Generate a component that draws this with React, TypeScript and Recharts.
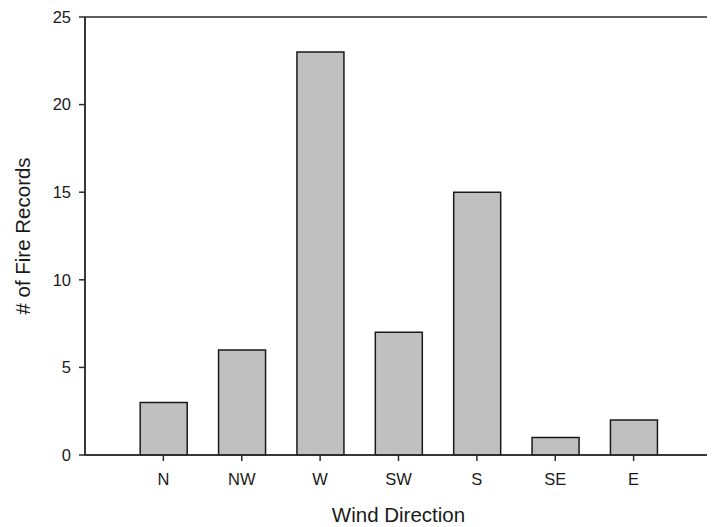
import React from 'react';
import { BarChart, Bar, XAxis, YAxis, Label, ReferenceArea } from 'recharts';

const directions = ['N', 'NW', 'W', 'SW', 'S', 'SE', 'E'];
const fireRecords = [3, 6, 23, 7, 15, 1, 2];
const yTicks = [0, 5, 10, 15, 20, 25];
const xTicks = [1, 2, 3, 4, 5, 6, 7];

// bars sit at positions 1..7 on a 0..8 axis, like the original plot
const data = directions.map((d, i) => ({ pos: i + 1, dir: d, count: fireRecords[i] }));

const font = 'Liberation Sans, Arial, sans-serif';
const axisColor = '#2b2b2b';
const textColor = '#1a1a1a';

export default function App() {
    return (
        <div style={{ margin: '-8px 0 0 -8px', width: 715, height: 527, fontFamily: font }}>
            <BarChart
                width={715}
                height={527}
                data={data}
                margin={{ top: 17, right: 3, bottom: 0, left: 0 }}
                barSize={47}
            >
                <ReferenceArea x1={0} x2={8} y1={0} y2={25} fill="none" stroke={axisColor} strokeWidth={1.5} ifOverflow="visible" />
                <XAxis
                    dataKey="pos"
                    type="number"
                    domain={[0, 8]}
                    ticks={xTicks}
                    tickFormatter={(v) => directions[v - 1]}
                    height={72}
                    stroke={axisColor}
                    strokeWidth={1.5}
                    tickSize={6}
                    tickMargin={12}
                    tick={{ fill: textColor, fontSize: 16.5, fontFamily: font }}
                >
                    <Label
                        value="Wind Direction"
                        position="insideBottom"
                        offset={5}
                        style={{ fill: textColor, fontSize: 20.5, fontFamily: font }}
                    />
                </XAxis>
                <YAxis
                    width={85}
                    domain={[0, 25]}
                    ticks={yTicks}
                    stroke={axisColor}
                    strokeWidth={1.5}
                    tickSize={6}
                    tickMargin={8}
                    tick={{ fill: textColor, fontSize: 16.5, fontFamily: font }}
                >
                    <Label
                        value="# of Fire Records"
                        angle={-90}
                        position="insideLeft"
                        offset={23}
                        style={{ textAnchor: 'middle', fill: textColor, fontSize: 20.5, fontFamily: font }}
                    />
                </YAxis>
                <Bar dataKey="count" fill="#c0c0c0" stroke={textColor} strokeWidth={1.5} isAnimationActive={false} />
            </BarChart>
        </div>
    );
}
